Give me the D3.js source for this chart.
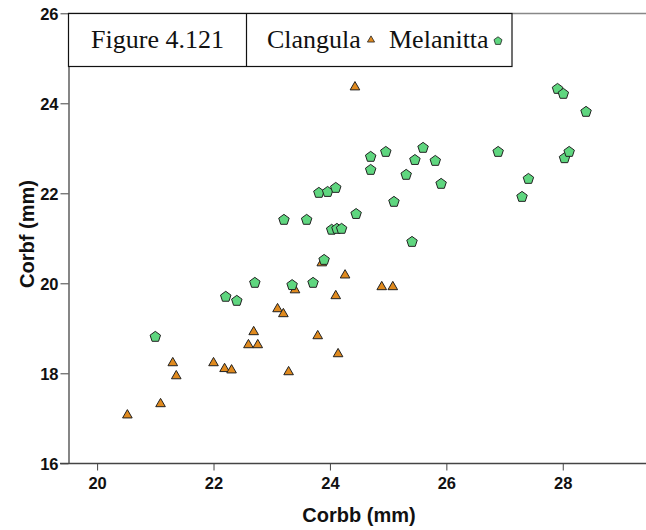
<!DOCTYPE html>
<html><head><meta charset="utf-8">
<script src="https://cdn.jsdelivr.net/npm/d3@7"></script>
<style>body{margin:0;background:#fff}svg{display:block}</style>
</head><body>
<script>
const clangulaX = [20.52,21.09,21.30,21.36,22.00,22.19,22.31,22.60,22.76,22.69,23.10,23.20,23.29,23.40,23.79,23.86,24.10,24.14,24.26,24.43,24.89,25.08];
const clangulaY = [17.07,17.32,18.23,17.94,18.23,18.10,18.07,18.63,18.63,18.92,19.43,19.32,18.03,19.85,18.83,20.45,19.72,18.43,20.18,24.36,19.92,19.92];
const melanittaX = [21.00,22.21,22.40,22.71,23.35,23.71,23.90,23.21,23.60,24.03,24.12,24.20,24.45,23.81,23.96,24.10,24.70,24.70,24.96,25.10,25.31,25.41,25.46,25.60,25.81,25.91,26.89,27.30,27.41,27.91,28.01,28.03,28.11,28.40];
const melanittaY = [18.81,19.70,19.61,20.01,19.96,20.01,20.52,21.41,21.41,21.19,21.21,21.21,21.54,22.01,22.03,22.12,22.81,22.52,22.92,21.81,22.41,20.92,22.74,23.01,22.72,22.21,22.92,21.92,22.32,24.32,24.21,22.78,22.92,23.81];
const xTicks = [20,22,24,26,28];
const yTicks = [16,18,20,22,24,26];
const figureLabel = "Figure 4.121";
const seriesNames = ["Clangula","Melanitta"];

const W = 646, H = 530;
const svg = d3.select("body").append("svg").attr("width", W).attr("height", H);
const x = d3.scaleLinear().domain([19.5, 29.43]).range([68, 646]);
const y = d3.scaleLinear().domain([16, 26]).range([463.3, 13.3]);
const sans = "Arial, 'Liberation Sans', sans-serif";

// frame top line
svg.append("line").attr("x1", 68).attr("x2", 646).attr("y1", 13.5).attr("y2", 13.5)
  .attr("stroke", "#888").attr("stroke-width", 1.3);

const xAxis = svg.append("g").attr("transform", "translate(0,463.5)")
  .call(d3.axisBottom(x).tickValues(xTicks).tickSize(7).tickSizeOuter(0).tickFormat(d3.format("d")));
xAxis.select(".domain").attr("d", "M60,0H646").attr("stroke", "#444").attr("stroke-width", 1.3);
xAxis.selectAll(".tick line").attr("stroke", "#444");
xAxis.selectAll(".tick text").attr("y", 25.5).attr("dy", 0)
  .style("font-family", sans).style("font-size", "16.5px").style("font-weight", "bold").attr("fill", "#111");

const yAxis = svg.append("g").attr("transform", "translate(68.5,0)")
  .call(d3.axisLeft(y).tickValues(yTicks).tickSize(8).tickSizeOuter(0).tickFormat(d3.format("d")));
yAxis.select(".domain").attr("stroke", "#444").attr("stroke-width", 1.3);
yAxis.selectAll(".tick line").attr("stroke", "#444");
yAxis.selectAll(".tick text").attr("x", -10).attr("dy", "0.36em")
  .style("font-family", sans).style("font-size", "16.5px").style("font-weight", "bold").attr("fill", "#111");

svg.append("text").attr("x", 359).attr("y", 521.5).attr("text-anchor", "middle")
  .style("font-family", sans).style("font-size", "20px").style("font-weight", "bold")
  .attr("fill", "#111").text("Corbb (mm)");
svg.append("text").attr("transform", "translate(33.5,234) rotate(-90)").attr("text-anchor", "middle")
  .style("font-family", sans).style("font-size", "20px").style("font-weight", "bold")
  .attr("fill", "#111").text("Corbf (mm)");

const triColor = "#e08a1e", penColor = "#5fd67f";
const tri = d3.symbol().type(d3.symbolTriangle).size(40);
const pentagon = (r) => {
  const pts = d3.range(5).map(i => {
    const a = -Math.PI / 2 + i * 2 * Math.PI / 5;
    return [r * Math.cos(a), r * Math.sin(a)];
  });
  return "M" + pts.map(p => p.join(",")).join("L") + "Z";
};

const clData = clangulaX.map((v, i) => ({x: v, y: clangulaY[i]}));
const meData = melanittaX.map((v, i) => ({x: v, y: melanittaY[i]}));

svg.append("g").selectAll("path").data(clData).join("path")
  .attr("transform", d => `translate(${x(d.x)},${y(d.y)})`)
  .attr("d", tri).attr("fill", triColor).attr("stroke", "#222").attr("stroke-width", 1);
svg.append("g").selectAll("path").data(meData).join("path")
  .attr("transform", d => `translate(${x(d.x)},${y(d.y)})`)
  .attr("d", pentagon(5.5)).attr("fill", penColor).attr("stroke", "#222").attr("stroke-width", 1);

// legend box
const lg = svg.append("g");
lg.append("rect").attr("x", 68.5).attr("y", 13.5).attr("width", 443.5).attr("height", 53)
  .attr("fill", "#fff").attr("stroke", "#111").attr("stroke-width", 1.2);
lg.append("line").attr("x1", 246.5).attr("x2", 246.5).attr("y1", 13.5).attr("y2", 66.5)
  .attr("stroke", "#111").attr("stroke-width", 1.2);
const serif = "'Times New Roman', 'Liberation Serif', serif";
lg.append("text").attr("x", 157.5).attr("y", 47.5).attr("text-anchor", "middle")
  .style("font-family", serif).style("font-size", "26px").attr("fill", "#111").text(figureLabel);
lg.append("text").attr("x", 267).attr("y", 47.5)
  .style("font-family", serif).style("font-size", "26px").attr("fill", "#111").text(seriesNames[0]);
lg.append("path").attr("transform", "translate(371,40)").attr("d", d3.symbol().type(d3.symbolTriangle).size(22))
  .attr("fill", triColor).attr("stroke", "#222").attr("stroke-width", 0.8);
lg.append("text").attr("x", 389).attr("y", 47.5)
  .style("font-family", serif).style("font-size", "26px").attr("fill", "#111").text(seriesNames[1]);
lg.append("path").attr("transform", "translate(498,41)").attr("d", pentagon(4.2))
  .attr("fill", penColor).attr("stroke", "#222").attr("stroke-width", 0.8);
</script>
</body></html>
